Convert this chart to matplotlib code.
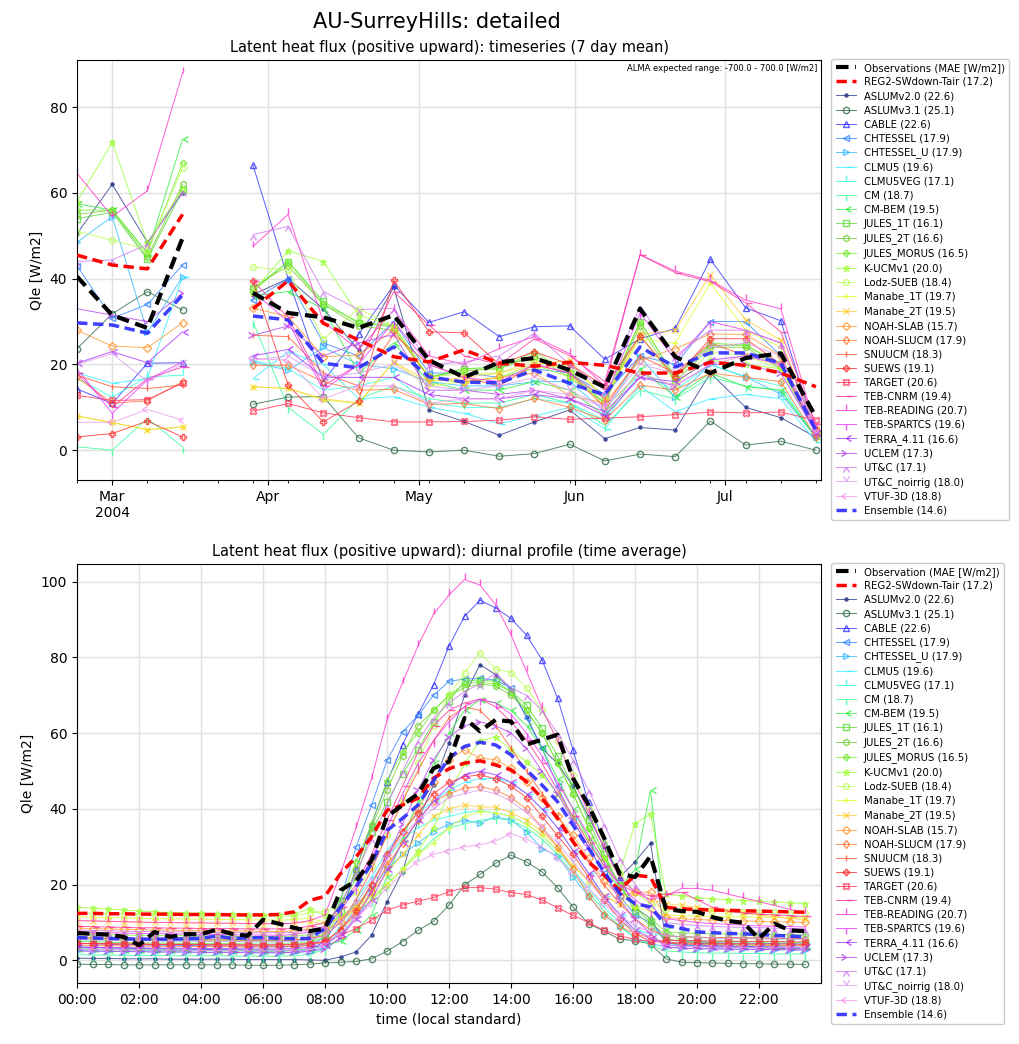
import matplotlib
matplotlib.use('Agg')
import matplotlib.pyplot as plt
import matplotlib.dates as mdates
import numpy as np
import pandas as pd

nan = np.nan

# ---- weekly timeseries (7 day mean), Mondays from 2004-02-23 ----
week_start = '2004-02-23'
n_weeks = 22

ts_obs = [40.5, 31.5, 28.5, 49.5, nan, 36.7, 32, 31, 28.5, 31.5, 21, 17, 20.5, 21.5, 18.7, 14.7, 33, 21.8, 18, 21.5, 22.6, 7.7]
ts_reg2 = [45.5, 43.2, 42.3, 55, nan, 33, 39.5, 29.6, 25.7, 21.8, 20.6, 23.4, 20.3, 19.6, 20.5, 19.8, 18, 18, 20.5, 19.8, 18, 14.8]
ts_ens = [29.7, 29.2, 27.3, 36.2, nan, 31.3, 30.4, 20.3, 19.2, 24.1, 17.1, 15.9, 15.7, 18.7, 15.6, 12.9, 24.1, 19.4, 22.7, 22.7, 20.3, 4.7]

ts_aslumv20 = [50.5, 62, 48.5, 60, nan, 36.3, 40, 33, 23.4, 38, 9.4, 6.7, 3.5, 6.6, 9.4, 2.7, 5.3, 4.7, 18, 10, 7.6, 3]
ts_aslumv31 = [23.7, 31.8, 37, 32.7, nan, 10.7, 12.4, 12.5, 2.9, 0, -0.4, 0, -1.4, -0.8, 1.4, -2.5, -0.9, -1.5, 6.8, 1.2, 2.1, 0]
ts_cable = [14.3, 10.9, 20.3, 20.4, nan, 66.5, 40, 16, 27, 38.5, 29.8, 32.3, 26.5, 28.8, 29, 21.2, 26, 28.4, 44.5, 33.2, 30.2, 4]
ts_chtessel = [43, 30.8, 34, 43.2, nan, 35, 40, 25, 22, 30, 18, 18, 17, 19, 18, 13, 22, 20, 30, 30, 22, 4]
ts_chtessel_u = [48.5, 54.5, 27.5, 40.5, nan, 20.6, 18.6, 24, 20, 19, 16, 15, 15, 16, 16, 9, 21.8, 12.3, 20, 17.1, 13.1, 3]
ts_clmu5 = [18, 15.6, 16.7, 40.5, nan, 16.7, 23, 20, 12, 12.5, 10, 8.6, 6.2, 8, 10, 5, 15, 9, 12, 13, 12, 2]
ts_clmu5veg = [16.7, 12.4, 17.1, 17.5, nan, 21, 19, 14, 15, 17, 11, 10, 10, 12, 11, 7, 18, 14, 20, 17, 15, 3]
ts_cm = [0.8, 0, 7.4, 0.8, nan, 30, 10, 3.7, 12, 15, 12, 11, 11, 13, 11, 5.8, 14, 12, 17, 15, 14, 3]
ts_cm_bem = [57.5, 56, 46, 72.6, nan, 36, 37, 33, 18, 25, 16, 14, 14, 16, 14, 8, 19, 12.5, 18, 14.8, 14, 3]
ts_jules_1t = [54, 55.5, 44.5, 60.7, nan, 37.5, 44, 34.7, 29.6, 28.8, 17, 19, 19.4, 22, 18, 11, 30, 17, 24.5, 24.5, 20, 4]
ts_jules_2t = [55, 56, 45, 62, nan, 38, 43, 34, 29, 28, 17, 18.5, 19, 22, 17, 11, 29, 16, 24, 24, 19, 4]
ts_jules_morus = [56, 56, 46, 67, nan, 37, 44, 34, 30, 29, 17, 19, 19, 23, 18, 12, 30, 17, 25, 24.5, 20, 4]
ts_kucmv1 = [58, 71.8, 48.3, 61, nan, 37, 46.5, 44, 31.5, 29, 17, 15.6, 17, 20, 17, 12, 27, 16, 21, 20, 19, 5]
ts_lodz = [51, 49, 46.8, 65.8, nan, 42.7, 42, 25.9, 33, 29, 17, 17.9, 18, 21, 19, 10, 17.9, 15, 23, 22, 19, 5]
ts_manabe_1t = [7.9, 6.4, 4.8, 5.4, nan, 14.8, 14.4, 11.7, 10.9, 20.6, 15, 16, 17, 19, 20, 12, 26, 25, 39, 28, 24, 5]
ts_manabe_2t = [8, 6.5, 4.8, 5.4, nan, 14.8, 14.4, 12, 11, 20.6, 16, 17, 18, 20, 21, 12, 27, 28, 40.9, 30.4, 25.7, 5]
ts_noah_slab = [28, 24.3, 23.9, 29.7, nan, 33.1, 31.2, 21.8, 22.2, 28, 17, 16, 17, 18, 12.7, 11, 21, 23.7, 27.1, 27, 22, 4]
ts_noah_slucm = [17, 11, 11.5, 16, nan, 19.8, 19.8, 16, 14, 14.2, 10.7, 10.9, 9.7, 12.1, 10, 7, 15.2, 14, 18, 17, 16, 3]
ts_snuucm = [17.5, 14.8, 14.4, 15.2, nan, 26.8, 26.5, 18, 15, 27, 20, 17, 15, 20, 18, 10, 22, 18, 25, 22, 20, 4]
ts_suews = [3.1, 3.9, 6.8, 3.1, nan, 39.5, 15.2, 6.6, 11.4, 39.7, 27.6, 27.4, 20, 23, 20, 15, 26.6, 17, 26, 26, 20, 5]
ts_target = [12.8, 11.6, 11.8, 15.7, nan, 9.1, 10.9, 8.7, 7.6, 6.6, 6.6, 6.7, 7, 7.8, 7.2, 7.5, 7.8, 8.3, 8.9, 8.7, 8.9, 7]
ts_teb_cnrm = [17.9, 10.1, 16.7, 19.4, nan, 39.5, 31, 15, 20, 37, 29.2, 22, 20, 26, 22, 16, 45.6, 41.4, 39.3, 34.4, 27.6, 6]
ts_teb_reading = [64.6, 54.5, 60.5, 88, nan, 47.5, 55, 30, 23.4, 32.7, 22, 20, 23.7, 26.5, 22.5, 15, 45.6, 41.8, 39.6, 35, 33, 5]
ts_teb_spartcs = [19, 8.6, 16.4, 20.6, nan, 37, 30, 14, 20, 30, 20, 17, 16, 20, 18, 12, 32, 21, 30, 28, 25, 4]
ts_terra = [20.3, 23, 20.4, 27.6, nan, 22, 23.5, 17, 17, 17, 13, 12, 12, 13, 12, 8, 17, 16, 21, 22, 20, 4]
ts_uclem = [33, 31.5, 30, 36.6, nan, 26.8, 29, 22, 25, 27, 14, 14, 13, 14, 12, 9, 17, 15, 20, 20, 18, 4]
ts_utc = [44, 44.4, 48, 60.5, nan, 50.3, 52.2, 37, 32.8, 33.1, 20, 20.6, 22, 27.3, 20, 14, 33.6, 22, 28, 28, 25, 5]
ts_utc_noirrig = [20, 22.5, 16, 20, nan, 21, 22, 17, 18, 20, 15, 14, 15, 17, 14, 10, 20, 18, 24, 25, 22, 4]
ts_vtuf = [6.5, 6.5, 9.5, 7, nan, 21.4, 21, 12, 15, 15, 11, 12, 12, 14, 13, 10, 18, 15, 20, 22, 20, 5]

# ---- diurnal profile, half-hourly 00:00 .. 23:30 ----
dp_obs = [7.2, 7.0, 6.8, 6.2, 4.0, 7.5, 6.2, 6.9, 6.9, 8.1, 7.0, 6.5, 10.7, 9.7, 8.6, 7.7,
          8.4, 18.5, 21, 26.4, 38, 41, 44, 50.7, 52.5, 64, 60.5, 63.5, 63.1, 57, 58.3, 59.6,
          48.1, 41, 32.4, 22.9, 22, 27.5, 13.6, 13, 12.8, 11.4, 10.4, 9.9, 5.7, 9.7, 7.9, 7.7]
dp_reg2 = [12.4, 12.4, 12.3, 12.3, 12.2, 12.2, 12.2, 12.1, 12.1, 12.1, 12.0, 12.0, 12.0, 12.1, 12.8, 15.8,
           16.9, 22.9, 27.3, 32.6, 39.6, 41, 42.8, 48.1, 50.6, 52.1, 52.7, 51.6, 50.3, 47.2, 42.8, 37.5,
           31.3, 26, 22.5, 18.5, 22.5, 22, 14, 13.6, 13.4, 13.3, 13.2, 13.1, 13.0, 12.9, 12.8, 12.7]
dp_ens = [6.0, 5.9, 5.8, 5.7, 5.6, 5.6, 5.6, 5.7, 5.8, 6.4, 5.8, 5.9, 6.0, 5.8, 5.7, 5.8,
          8.4, 14, 19.4, 25.5, 34.3, 37.5, 41, 47.5, 53.4, 56.5, 57.6, 56.9, 54.3, 50.3, 46.3, 41.9,
          35.7, 29.6, 23.4, 17.7, 15, 14.1, 9.2, 8.4, 7.5, 7.3, 7.1, 7.0, 6.8, 6.6, 6.4, 6.2]

dp_aslumv20 = [0.6, 0.5, 0.5, 0.4, 0.4, 0.4, 0.3, 0.3, 0.3, 0.3, 0.3, 0.2, 0.2, 0.2, 0.2, 0.1,
               0.0, 0.9, 2.2, 6.6, 15.4, 23.4, 37, 46.3, 57.4, 70, 78.1, 75.5, 71.5, 64.4, 56, 52,
               46, 38, 30, 22, 26, 31, 5, 4, 3.8, 3.6, 3.5, 3.4, 3.3, 3.2, 3.1, 3.0]
dp_aslumv31 = [-1.0, -1.1, -1.1, -1.2, -1.2, -1.2, -1.2, -1.2, -1.2, -1.2, -1.2, -1.3, -1.3, -1.3, -1.2, -1.0,
               -0.7, -0.5, -0.3, 0.4, 2.4, 4.9, 7.9, 10.3, 14.6, 19.9, 22.7, 25.6, 27.8, 26, 23.4, 19.2,
               14.1, 9.7, 7.7, 5.6, 5.2, 4.3, 0.4, -0.5, -0.6, -0.7, -0.8, -0.9, -0.9, -1.0, -1.0, -1.1]
dp_cable = [3.5, 3.4, 3.3, 3.2, 3.1, 3.0, 3.0, 2.9, 2.9, 2.8, 2.8, 2.7, 2.7, 2.7, 2.6, 2.8,
            5, 12, 24, 36, 47, 57, 65, 72.8, 83, 90.9, 95.1, 93.1, 90.3, 85.9, 79.4, 69.3,
            55.6, 41.7, 31.3, 22, 14, 11, 4.5, 4.2, 4.0, 3.9, 3.8, 3.7, 3.6, 3.5, 3.5, 3.4]
dp_chtessel = [4.5, 4.4, 4.3, 4.2, 4.1, 4.0, 4.0, 3.9, 3.9, 3.8, 3.8, 3.7, 3.7, 3.6, 3.7, 4.0,
               6, 16, 29.9, 41, 52.8, 60.3, 64.7, 70, 73.7, 74.3, 74.5, 74, 72, 64, 56, 46,
               37, 30, 23, 17, 12, 10, 5.5, 5.0, 4.8, 4.7, 4.6, 4.5, 4.5, 4.4, 4.4, 4.3]
dp_chtessel_u = [2.5, 2.4, 2.4, 2.3, 2.3, 2.2, 2.2, 2.2, 2.1, 2.1, 2.1, 2.0, 2.0, 2.0, 2.1, 2.3,
                 3.5, 8, 14, 19, 24, 28, 31, 34, 36, 37, 36.2, 38, 37, 34, 29.5, 27.5,
                 22, 17, 12, 9, 6, 4.5, 3.5, 3.2, 3.1, 3.0, 3.0, 2.9, 2.9, 2.8, 2.8, 2.7]
dp_clmu5 = [3.0, 2.9, 2.9, 2.8, 2.8, 2.7, 2.7, 2.7, 2.6, 2.6, 2.6, 2.5, 2.5, 2.5, 2.6, 2.8,
            4, 9, 16, 22, 29, 34, 39, 42, 45, 47, 48, 48, 47, 44, 40, 35,
            29, 23, 17, 12, 8, 6, 4.5, 4.0, 3.8, 3.7, 3.6, 3.5, 3.5, 3.4, 3.4, 3.3]
dp_clmu5veg = [5.5, 5.4, 5.3, 5.3, 5.2, 5.2, 5.1, 5.1, 5.0, 5.0, 5.0, 4.9, 4.9, 4.9, 5.0, 5.3,
               6.5, 10, 15, 21, 27, 32, 35, 37, 38, 39, 39.5, 39, 38, 36, 33, 29,
               24, 19, 14, 10, 8, 7, 6.5, 6.2, 6.0, 5.9, 5.8, 5.8, 5.7, 5.7, 5.6, 5.6]
dp_cm = [1.5, 1.4, 1.4, 1.3, 1.3, 1.3, 1.2, 1.2, 1.2, 1.2, 1.1, 1.1, 1.1, 1.1, 1.2, 1.5,
         3, 6, 12, 16, 20, 24, 28, 32, 35, 36, 37, 37.5, 37, 35, 32, 28,
         23, 18, 13, 9, 6, 4, 2.5, 2.2, 2.0, 1.9, 1.9, 1.8, 1.8, 1.7, 1.7, 1.7]
dp_cm_bem = [3.0, 2.9, 2.8, 2.8, 2.7, 2.7, 2.6, 2.6, 2.6, 2.5, 2.5, 2.5, 2.4, 2.4, 2.6, 3.0,
             4, 5, 8, 12, 22, 32, 42, 52, 60, 66, 68.8, 68, 66, 62, 56, 48,
             40, 32, 25, 19, 24, 44.9, 8, 5, 4.5, 4.3, 4.2, 4.1, 4.0, 4.0, 3.9, 3.9]
dp_jules_1t = [5.0, 4.9, 4.8, 4.7, 4.6, 4.6, 4.5, 4.5, 4.4, 4.4, 4.4, 4.3, 4.3, 4.3, 4.4, 4.8,
               6, 13, 22, 34, 41.8, 49.3, 55.6, 63, 68.6, 73.7, 74.1, 73.7, 71, 67.5, 61.3, 54,
               46, 37, 28, 20, 13, 9, 5.5, 5.2, 5.1, 5.0, 5.0, 4.9, 4.9, 4.8, 4.8, 4.7]
dp_jules_2t = [6.0, 5.9, 5.8, 5.7, 5.6, 5.6, 5.5, 5.5, 5.4, 5.4, 5.4, 5.3, 5.3, 5.3, 5.4, 5.8,
               7, 14, 24, 35, 45, 54, 62, 66, 70, 72, 73, 72.5, 70, 66, 60, 52,
               44, 35, 27, 20, 14, 10, 6.5, 6.2, 6.1, 6.0, 6.0, 5.9, 5.9, 5.8, 5.8, 5.7]
dp_jules_morus = [7.0, 6.9, 6.8, 6.7, 6.6, 6.6, 6.5, 6.5, 6.4, 6.4, 6.4, 6.3, 6.3, 6.3, 6.4, 6.8,
                  8, 16, 26, 36, 47.5, 55, 60, 66, 70, 73, 73.5, 73, 71, 66, 60, 52,
                  44, 35, 27, 20, 14, 11, 7.5, 7.2, 7.1, 7.0, 7.0, 6.9, 6.9, 6.8, 6.8, 6.7]
dp_kucmv1 = [14.0, 13.8, 13.5, 13.3, 13.0, 12.8, 12.6, 12.5, 12.4, 12.3, 12.2, 12.1, 12.0, 12.0, 12.3, 13.5,
             12, 12, 14, 17, 20, 24, 29, 35, 44, 52, 58, 59, 55.6, 52.5, 49, 44,
             38, 32, 27, 23, 36.1, 38.7, 17.5, 17.0, 16.5, 16.2, 16.0, 15.8, 15.6, 15.4, 15.2, 15.0]
dp_lodz = [12.5, 12.4, 12.3, 12.2, 12.1, 12.0, 12.0, 11.9, 11.9, 11.8, 11.8, 11.7, 11.7, 11.6, 11.8, 12.5,
           13, 14, 18, 25, 33, 42, 52, 62, 70, 76, 81.2, 77, 76, 72, 66, 58,
           49, 40, 31, 23, 18, 15, 13.5, 13.2, 13.0, 12.9, 12.8, 12.8, 12.7, 12.7, 12.6, 12.6]
dp_manabe_1t = [11.5, 11.4, 11.3, 11.2, 11.1, 11.0, 11.0, 10.9, 10.9, 10.8, 10.8, 10.7, 10.7, 10.6, 10.8, 11.2,
                10, 11, 13, 16, 20, 24, 28, 31, 35, 38, 39.3, 39, 38, 36, 33, 29,
                25, 21, 17, 15, 14, 13, 12, 11.8, 11.7, 11.6, 11.5, 11.5, 11.4, 11.4, 11.3, 11.3]
dp_manabe_2t = [10.5, 10.4, 10.3, 10.2, 10.1, 10.0, 10.0, 9.9, 9.9, 9.8, 9.8, 9.7, 9.7, 9.6, 9.8, 10.2,
                9.5, 11, 14, 18, 23, 28, 33, 38, 40, 41, 40.5, 40.5, 39, 37, 34, 30,
                25, 21, 17, 15, 18, 16, 15, 14.5, 14, 13.5, 13, 12.5, 12, 11.5, 11, 10.8]
dp_noah_slab = [8.5, 8.4, 8.3, 8.2, 8.1, 8.0, 8.0, 7.9, 7.9, 7.8, 7.8, 7.7, 7.7, 7.6, 7.8, 8.2,
                8, 10, 14, 20, 27, 34, 40, 47, 53, 55.6, 53.4, 53, 50.8, 47, 43, 38,
                33, 27, 21, 17, 18, 18, 11.4, 11.0, 10.8, 10.6, 10.5, 10.4, 10.3, 10.2, 10.1, 10.0]
dp_noah_slucm = [4.0, 3.9, 3.9, 3.8, 3.8, 3.7, 3.7, 3.7, 3.6, 3.6, 3.6, 3.5, 3.5, 3.5, 3.6, 3.9,
                 5, 8, 12, 18, 25, 31, 37, 42, 44, 45.5, 45.9, 45, 43, 40, 35, 30,
                 24, 17, 12, 9, 7, 6, 4.5, 4.3, 4.2, 4.1, 4.1, 4.0, 4.0, 3.9, 3.9, 3.9]
dp_snuucm = [6.0, 5.9, 5.8, 5.7, 5.6, 5.6, 5.5, 5.5, 5.4, 5.4, 5.4, 5.3, 5.3, 5.3, 5.4, 5.8,
             6.5, 10, 16, 24, 33, 42, 50, 58, 64, 67, 66, 62, 56, 50, 44, 38,
             32, 26, 20, 15, 11, 8, 6.5, 6.2, 6.1, 6.0, 6.0, 5.9, 5.9, 5.8, 5.8, 5.7]
dp_suews = [4.5, 4.4, 4.4, 4.3, 4.3, 4.2, 4.2, 4.2, 4.1, 4.1, 4.1, 4.0, 4.0, 4.0, 4.1, 4.4,
            5, 8, 13, 20, 28, 34, 39, 44, 47, 48.5, 49, 48, 46, 43, 38, 33,
            28, 22, 16, 11, 7, 5, 4.8, 4.6, 4.5, 4.5, 4.4, 4.4, 4.3, 4.3, 4.3, 4.2]
dp_target = [4.4, 4.4, 4.3, 4.3, 4.3, 4.2, 4.2, 4.2, 4.2, 4.1, 4.1, 4.1, 4.1, 4.1, 4.2, 4.4,
             4.8, 6.6, 8.4, 10.6, 13.2, 14.6, 15.6, 16.6, 18.1, 19.2, 19.2, 18.8, 17.9, 17.4, 15.9, 13.9,
             11.9, 10, 7.9, 6.5, 5.5, 5.0, 5.3, 5.2, 5.2, 5.1, 5.1, 5.0, 5.0, 5.0, 4.9, 4.9]
dp_teb_cnrm = [9.0, 8.9, 8.8, 8.7, 8.6, 8.6, 8.5, 8.5, 8.4, 8.4, 8.4, 8.3, 8.3, 8.3, 8.4, 9.0,
               10, 14, 20, 28, 37, 46, 55, 62, 66, 68, 69, 67, 63, 58.3, 52, 45,
               38, 31, 25, 20, 18, 17, 17.5, 18.0, 16.0, 14.0, 13.0, 12.5, 12.2, 12.0, 11.8, 11.6]
dp_teb_reading = [10.5, 10.4, 10.3, 10.2, 10.1, 10.0, 10.0, 9.9, 9.9, 9.8, 9.8, 9.7, 9.7, 9.6, 9.8, 10.5,
                  12, 22.9, 35, 48, 63.5, 73.3, 83.1, 91.4, 96.5, 100.6, 99.1, 94, 86, 76.3, 66.6, 57.8,
                  48, 39, 29.6, 22, 18, 16, 17, 19, 19, 18.5, 17.5, 16.5, 15.5, 14.5, 13.5, 12.5]
dp_teb_spartcs = [7.5, 7.4, 7.3, 7.2, 7.1, 7.0, 7.0, 6.9, 6.9, 6.8, 6.8, 6.7, 6.7, 6.6, 6.8, 7.5,
                  9, 13, 19, 27, 35, 44, 52, 58, 63, 67, 69, 68, 65, 60, 54, 47,
                  40, 33, 26, 20, 16, 13, 11, 10.5, 10, 9.7, 9.5, 9.3, 9.1, 9.0, 8.9, 8.8]
dp_terra = [3.5, 3.4, 3.4, 3.3, 3.3, 3.2, 3.2, 3.2, 3.1, 3.1, 3.1, 3.0, 3.0, 3.0, 3.1, 3.4,
            4, 7, 11, 16, 24, 31, 37, 42, 46, 49, 50, 49, 47, 44, 40, 35,
            29, 23, 17, 12, 8, 6, 4, 3.8, 3.7, 3.6, 3.6, 3.5, 3.5, 3.4, 3.4, 3.4]
dp_uclem = [2.5, 2.4, 2.4, 2.3, 2.3, 2.2, 2.2, 2.2, 2.1, 2.1, 2.1, 2.0, 2.0, 2.0, 2.1, 2.4,
            3, 6, 11, 18, 27, 36, 45, 53, 59, 62, 63, 62, 60, 56, 50, 44,
            37, 30, 23, 16, 11, 7, 3.5, 3.2, 3.1, 3.0, 3.0, 2.9, 2.9, 2.8, 2.8, 2.7]
dp_utc = [8.0, 7.9, 7.8, 7.7, 7.6, 7.6, 7.5, 7.5, 7.4, 7.4, 7.4, 7.3, 7.3, 7.3, 7.4, 8.0,
          9, 15, 23, 32, 41, 50, 58, 64, 68, 71, 73, 75.9, 72, 70, 66, 60,
          53, 45, 36, 27, 20, 15, 10, 9.5, 9.2, 9.0, 8.8, 8.7, 8.6, 8.5, 8.4, 8.3]
dp_utc_noirrig = [5.5, 5.4, 5.3, 5.3, 5.2, 5.2, 5.1, 5.1, 5.0, 5.0, 5.0, 4.9, 4.9, 4.9, 5.0, 5.3,
                  6.5, 10, 15, 21, 27, 33, 37, 40, 43, 44, 45, 44, 42, 39, 35, 31,
                  26, 21, 16, 12, 9, 7.5, 6.5, 6.2, 6.0, 5.9, 5.8, 5.8, 5.7, 5.7, 5.6, 5.6]
dp_vtuf = [3.0, 2.9, 2.9, 2.8, 2.8, 2.7, 2.7, 2.7, 2.6, 2.6, 2.6, 2.5, 2.5, 2.5, 2.6, 2.8,
           4, 7, 11, 15, 19, 23, 26, 28, 29, 30, 30.5, 31.5, 33.5, 32, 30, 27,
           23, 19, 15, 11, 8, 6, 4, 3.7, 3.6, 3.5, 3.5, 3.4, 3.4, 3.3, 3.3, 3.3]

model_names = ['ASLUMv2.0', 'ASLUMv3.1', 'CABLE', 'CHTESSEL', 'CHTESSEL_U', 'CLMU5', 'CLMU5VEG',
               'CM', 'CM-BEM', 'JULES_1T', 'JULES_2T', 'JULES_MORUS', 'K-UCMv1', 'Lodz-SUEB',
               'Manabe_1T', 'Manabe_2T', 'NOAH-SLAB', 'NOAH-SLUCM', 'SNUUCM', 'SUEWS', 'TARGET',
               'TEB-CNRM', 'TEB-READING', 'TEB-SPARTCS', 'TERRA_4.11', 'UCLEM', 'UT&C',
               'UT&C_noirrig', 'VTUF-3D']
model_mae = [22.6, 25.1, 22.6, 17.9, 17.9, 19.6, 17.1, 18.7, 19.5, 16.1, 16.6, 16.5, 20.0, 18.4,
             19.7, 19.5, 15.7, 17.9, 18.3, 19.1, 20.6, 19.4, 20.7, 19.6, 16.6, 17.3, 17.1, 18.0, 18.8]
reg2_mae = 17.2
ens_mae = 14.6

ts_models = [ts_aslumv20, ts_aslumv31, ts_cable, ts_chtessel, ts_chtessel_u, ts_clmu5, ts_clmu5veg,
             ts_cm, ts_cm_bem, ts_jules_1t, ts_jules_2t, ts_jules_morus, ts_kucmv1, ts_lodz,
             ts_manabe_1t, ts_manabe_2t, ts_noah_slab, ts_noah_slucm, ts_snuucm, ts_suews, ts_target,
             ts_teb_cnrm, ts_teb_reading, ts_teb_spartcs, ts_terra, ts_uclem, ts_utc,
             ts_utc_noirrig, ts_vtuf]
dp_models = [dp_aslumv20, dp_aslumv31, dp_cable, dp_chtessel, dp_chtessel_u, dp_clmu5, dp_clmu5veg,
             dp_cm, dp_cm_bem, dp_jules_1t, dp_jules_2t, dp_jules_morus, dp_kucmv1, dp_lodz,
             dp_manabe_1t, dp_manabe_2t, dp_noah_slab, dp_noah_slucm, dp_snuucm, dp_suews, dp_target,
             dp_teb_cnrm, dp_teb_reading, dp_teb_spartcs, dp_terra, dp_uclem, dp_utc,
             dp_utc_noirrig, dp_vtuf]

colors = ['#2b3a8c', '#2e6b45', '#3333ff', '#3388ff', '#33bbff', '#33eeff', '#33ffdd',
          '#33ff99', '#33ee44', '#55dd33', '#77cc33', '#77ee33', '#99ff33', '#bbff55',
          '#ddff33', '#ffcc33', '#ff9933', '#ff7733', '#ff5533', '#ff3333', '#ff3355',
          '#ff3399', '#ff33cc', '#ee33ff', '#aa33ff', '#bb44ee', '#cc77ee', '#dd99ee', '#ee99ee']
markers = ['.', 'o', '^', '<', '>', 1, 2, 3, 4, 's', 'h', 'P', '*', 'H', '+', 'x', 'D', 'd',
           '|', 'P', 'X', 1, 2, 3, 4, 5, 6, 7, 8]

dates = pd.date_range(week_start, periods=n_weeks, freq='7D')
hours = np.arange(48) * 0.5

fig = plt.figure(figsize=(10.2, 10.44), dpi=100)
ax1 = fig.add_axes([0.0755, 0.540, 0.7294, 0.4025])
ax2 = fig.add_axes([0.0755, 0.0584, 0.7294, 0.4014])

fig.text(0.428, 0.979, 'AU-SurreyHills: detailed', ha='center', va='center', fontsize=15)


def draw(ax, x, obs, reg2, ens, models, obs_label):
    ax.plot(x, obs, color='black', ls='--', lw=3, dashes=(3, 1.6), zorder=5,
            label=obs_label)
    ax.plot(x, reg2, color='red', ls='--', lw=2.5, dashes=(3, 1.6), zorder=4,
            label='REG2-SWdown-Tair (%.1f)' % reg2_mae)
    for i, name in enumerate(model_names):
        m = markers[i]
        ax.plot(x, models[i], color=colors[i], marker=m, ms=4.5, mew=1.0,
                mfc=colors[i] if m == '.' else 'none', lw=0.7, alpha=0.8, zorder=2,
                label='%s (%.1f)' % (name, model_mae[i]))
    ax.plot(x, ens, color='#2a2aff', ls='--', lw=2.5, dashes=(3, 1.6), alpha=0.9, zorder=4,
            label='Ensemble (%.1f)' % ens_mae)
    ax.grid(True, which='major', color='#e0e0e0', lw=1)
    ax.set_axisbelow(True)
    ax.set_ylabel('Qle [W/m2]')
    ax.legend(loc='upper left', bbox_to_anchor=(1.01, 1.01), fontsize=7.3, framealpha=1,
              borderaxespad=0.3, handlelength=2.0, labelspacing=0.40)


draw(ax1, dates, ts_obs, ts_reg2, ts_ens, ts_models, 'Observations (MAE [W/m2])')
ax1.set_title('Latent heat flux (positive upward): timeseries (7 day mean)', fontsize=10.5)
ax1.set_xlim(dates[0], dates[-1] + pd.Timedelta(days=1))
ax1.set_ylim(-7, 91)
ax1.set_yticks([0, 20, 40, 60, 80])
ax1.xaxis.set_major_locator(mdates.MonthLocator())
ax1.xaxis.set_minor_locator(mdates.WeekdayLocator(byweekday=mdates.MO))


def month_fmt(v, pos):
    d = mdates.num2date(v)
    return d.strftime('%b\n%Y') if d.month == 3 else d.strftime('%b')


ax1.xaxis.set_major_formatter(plt.FuncFormatter(month_fmt))
ax1.text(0.995, 0.99, 'ALMA expected range: -700.0 - 700.0 [W/m2]', transform=ax1.transAxes,
         ha='right', va='top', fontsize=6)

draw(ax2, hours, dp_obs, dp_reg2, dp_ens, dp_models, 'Observation (MAE [W/m2])')
ax2.set_title('Latent heat flux (positive upward): diurnal profile (time average)', fontsize=10.5)
ax2.set_xlim(0, 24)
ax2.set_ylim(-6, 104.7)
ax2.set_xticks(np.arange(0, 24, 2))
ax2.set_xticklabels(['%02d:00' % h for h in range(0, 24, 2)])
ax2.set_xlabel('time (local standard)')

fig.savefig('out.png', dpi=100)
